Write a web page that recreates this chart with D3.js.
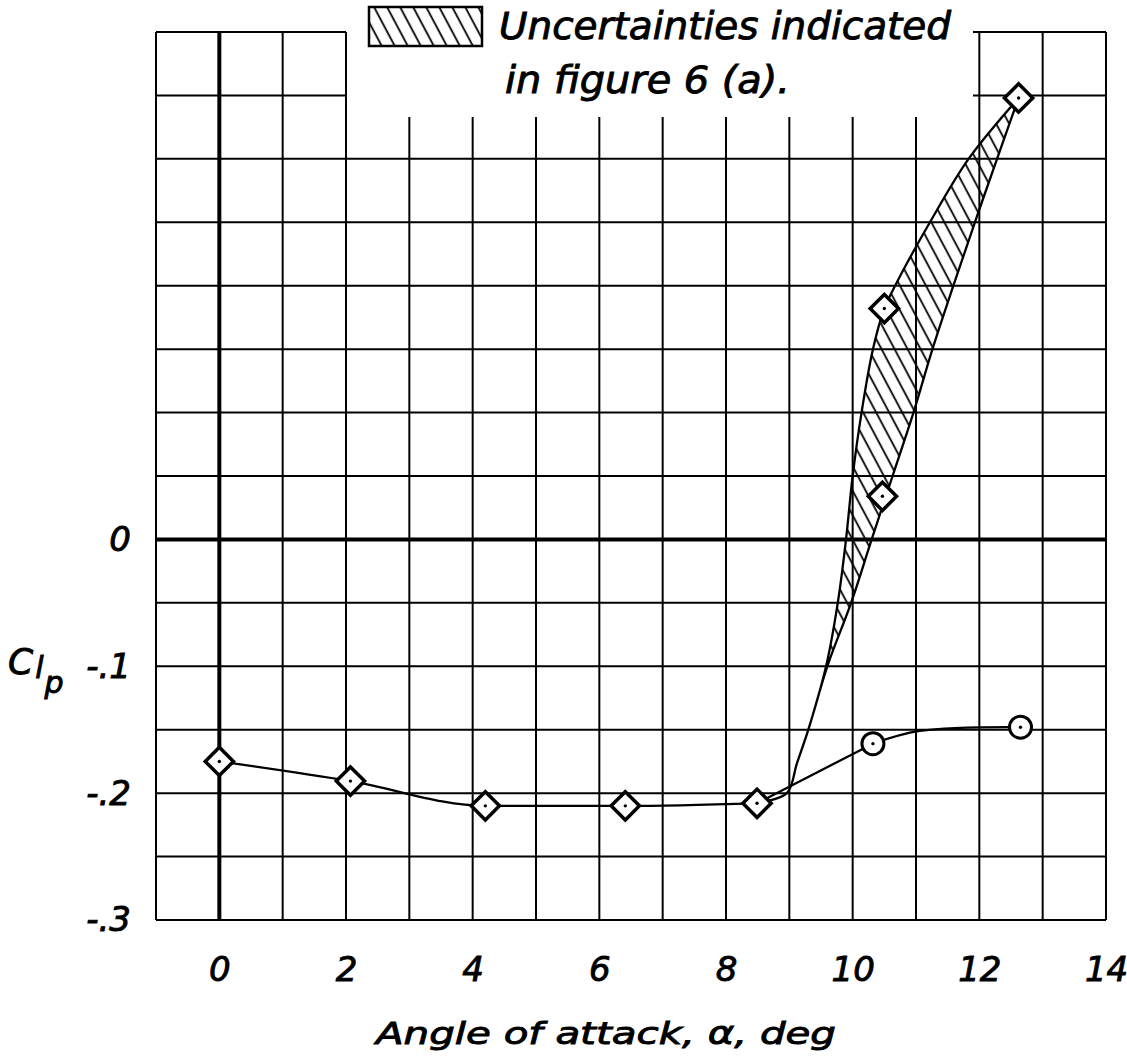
<!DOCTYPE html>
<html>
<head>
<meta charset="utf-8">
<script src="https://cdn.jsdelivr.net/npm/d3@7"></script>
<style>
body { margin: 0; background: #fff; }
svg text { font-family: "DejaVu Sans", sans-serif; font-style: italic; fill: #000; stroke: #000; stroke-width: 0.9px; }
</style>
</head>
<body>
<svg></svg>
<script>
// lower branch (diamonds)
let lowAlpha = [0, 2.07, 4.2, 6.41, 8.49]
let lowClp = [-0.175, -0.1905, -0.21, -0.21, -0.208]

// circles
let circAlpha = [10.32, 12.65]
let circClp = [-0.161, -0.148]

// faired line through the circles, starts at the last diamond
let circLineAlpha = [8.49, 10.32, 11.06, 12.65]
let circLineClp = [-0.208, -0.161, -0.151, -0.148]

// diamonds on the upper branch
let highAlpha = [10.5, 10.47, 12.62]
let highClp = [0.182, 0.034, 0.348]

// edges of the hatched uncertainty band
let bandLeftAlpha = [8.49, 8.96, 9.12, 9.3, 9.58, 9.765, 9.895, 10.0, 10.14, 10.32, 10.5, 10.67, 11.22, 11.83, 12.62]
let bandLeftClp = [-0.208, -0.2, -0.1765, -0.15, -0.1, -0.05, 0, 0.05, 0.1, 0.15, 0.182, 0.2, 0.25, 0.3, 0.348]
let bandRightAlpha = [8.49, 8.96, 9.12, 9.3, 9.6, 9.975, 10.3, 10.63, 10.96, 11.26, 11.59, 11.93, 12.28, 12.62]
let bandRightClp = [-0.208, -0.2, -0.1765, -0.15, -0.1, -0.05, 0, 0.05, 0.1, 0.15, 0.2, 0.25, 0.3, 0.348]

// ticks
let xTicks = [0, 2, 4, 6, 8, 10, 12, 14]
let yTicks = [0, -0.1, -0.2, -0.3]
let yTickLabels = ["0", "-.1", "-.2", "-.3"]

let width = 1127
let height = 1058

let svg = d3.select("svg")
    .attr("width", width)
    .attr("height", height)

let x = d3.scaleLinear().domain([-1, 14]).range([156, 1106])
let y = d3.scaleLinear().domain([-0.3, 0.4]).range([920, 32])

// hatch pattern
let defs = svg.append("defs")
defs.append("pattern")
    .attr("id", "hatch")
    .attr("patternUnits", "userSpaceOnUse")
    .attr("width", 11.5)
    .attr("height", 20)
    .attr("patternTransform", "rotate(-28)")
    .append("line")
    .attr("x1", 5).attr("y1", 0)
    .attr("x2", 5).attr("y2", 20)
    .attr("stroke", "#000")
    .attr("stroke-width", 1.8)

// grid - legend sits in a gap at the top
let xGrid = d3.range(-1, 15)
let yGrid = d3.range(-6, 9).map(i => +(i * 0.05).toFixed(2))
let inGap = a => a > 2 && a < 12

let grid = svg.append("g")
grid.selectAll(".v")
    .data(xGrid)
    .enter()
    .append("line")
    .attr("x1", d => x(d)).attr("x2", d => x(d))
    .attr("y1", y(-0.3))
    .attr("y2", d => inGap(d) ? y(0.333) : y(0.4))
    .attr("stroke", "#000")
    .attr("stroke-width", d => d == 0 ? 4 : 2)

let hSegs = []
yGrid.forEach(v => {
    if (v > 0.32) {
        hSegs.push([v, -1, 2])
        hSegs.push([v, 11.9, 14])
    } else {
        hSegs.push([v, -1, 14])
    }
})
grid.selectAll(".h")
    .data(hSegs)
    .enter()
    .append("line")
    .attr("x1", d => x(d[1])).attr("x2", d => x(d[2]))
    .attr("y1", d => y(d[0])).attr("y2", d => y(d[0]))
    .attr("stroke", "#000")
    .attr("stroke-width", d => d[0] == 0 ? 4 : 2)

// uncertainty band
let bandLine = d3.line()
    .x(d => x(d[0]))
    .y(d => y(d[1]))
    .curve(d3.curveCatmullRom.alpha(0.5))

let leftPts = d3.zip(bandLeftAlpha, bandLeftClp)
let rightPts = d3.zip(bandRightAlpha, bandRightClp).reverse()
let bandPath = bandLine(leftPts) + bandLine(rightPts).replace(/^M/, "L") + "Z"

svg.append("path")
    .attr("d", bandPath)
    .attr("fill", "url(#hatch)")
    .attr("stroke", "#000")
    .attr("stroke-width", 2.3)
    .attr("stroke-linejoin", "round")

// data lines
let smooth = d3.line()
    .x(d => x(d[0]))
    .y(d => y(d[1]))
    .curve(d3.curveMonotoneX)

svg.append("path")
    .attr("d", smooth(d3.zip(lowAlpha, lowClp)))
    .attr("fill", "none")
    .attr("stroke", "#000")
    .attr("stroke-width", 2.3)

// straight run from the diamond to the first circle, then faired
let circPath = d3.zip(circLineAlpha, circLineClp)
let straight = d3.line().x(d => x(d[0])).y(d => y(d[1]))
svg.append("path")
    .attr("d", straight(circPath.slice(0, 2)))
    .attr("fill", "none")
    .attr("stroke", "#000")
    .attr("stroke-width", 2.3)
svg.append("path")
    .attr("d", bandLine(circPath.slice(1)))
    .attr("fill", "none")
    .attr("stroke", "#000")
    .attr("stroke-width", 2.3)

// markers
let diamond = d3.symbol().type(d3.symbolSquare).size(400)
let drawDiamonds = (xs, ys) => {
    let pts = d3.zip(xs, ys)
    let g = svg.append("g")
    g.selectAll("path")
        .data(pts)
        .enter()
        .append("path")
        .attr("d", diamond)
        .attr("transform", d => "translate(" + x(d[0]) + "," + y(d[1]) + ") rotate(45)")
        .attr("fill", "#fff")
        .attr("stroke", "#000")
        .attr("stroke-width", 3.5)
    g.selectAll("circle")
        .data(pts)
        .enter()
        .append("circle")
        .attr("cx", d => x(d[0]))
        .attr("cy", d => y(d[1]))
        .attr("r", 1.7)
        .attr("fill", "#000")
}
drawDiamonds(lowAlpha, lowClp)
drawDiamonds(highAlpha, highClp)

let circPts = d3.zip(circAlpha, circClp)
let cg = svg.append("g")
cg.selectAll(".m")
    .data(circPts)
    .enter()
    .append("circle")
    .attr("cx", d => x(d[0]))
    .attr("cy", d => y(d[1]))
    .attr("r", 11)
    .attr("fill", "#fff")
    .attr("stroke", "#000")
    .attr("stroke-width", 3)
cg.selectAll(".dot")
    .data(circPts)
    .enter()
    .append("circle")
    .attr("cx", d => x(d[0]))
    .attr("cy", d => y(d[1]))
    .attr("r", 1.7)
    .attr("fill", "#000")

// axes (labels only, grid drawn above)
let xAxis = d3.axisBottom(x).tickValues(xTicks).tickSize(0).tickPadding(37)
let gx = svg.append("g")
    .attr("transform", "translate(0," + y(-0.3) + ")")
    .call(xAxis)
gx.select(".domain").remove()
gx.selectAll("text").style("font-size", "34px")

let yAxis = d3.axisLeft(y).tickValues(yTicks)
    .tickFormat((d, i) => yTickLabels[i])
    .tickSize(0).tickPadding(25)
let gy = svg.append("g")
    .attr("transform", "translate(" + x(-1) + ",0)")
    .call(yAxis)
gy.select(".domain").remove()
gy.selectAll("text").style("font-size", "34px")

// axis titles
svg.append("text")
    .attr("x", 376)
    .attr("y", 1044)
    .attr("textLength", 460)
    .attr("lengthAdjust", "spacingAndGlyphs")
    .style("font-size", "31px")
    .text("Angle of attack, α, deg")

let yt = svg.append("text").attr("x", 8).attr("y", 674).style("font-size", "36px")
yt.append("tspan").text("C")
yt.append("tspan").attr("dx", 2).attr("dy", 4).style("font-size", "30px").text("l")
yt.append("tspan").attr("dx", 1).attr("dy", 15).style("font-size", "30px").text("p")

// legend
svg.append("rect")
    .attr("x", 369).attr("y", 7)
    .attr("width", 113).attr("height", 39)
    .attr("fill", "url(#hatch)")
    .attr("stroke", "#000")
    .attr("stroke-width", 2.5)

svg.append("text")
    .attr("x", 499).attr("y", 39)
    .attr("textLength", 452)
    .attr("lengthAdjust", "spacingAndGlyphs")
    .style("font-size", "37px")
    .text("Uncertainties indicated")

svg.append("text")
    .attr("x", 505).attr("y", 93)
    .attr("textLength", 285)
    .attr("lengthAdjust", "spacingAndGlyphs")
    .style("font-size", "37px")
    .text("in figure 6 (a).")
</script>
</body>
</html>
